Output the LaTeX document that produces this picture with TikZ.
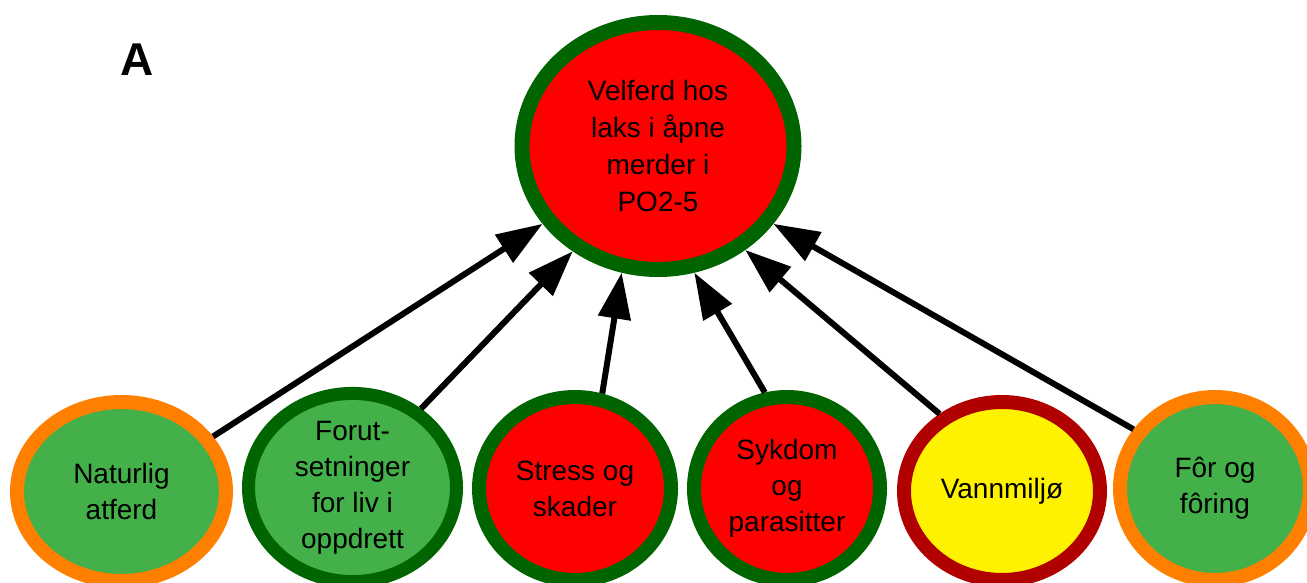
\documentclass[tikz,border=0pt]{standalone}
\usepackage{fontspec}
\setmainfont{Liberation Sans}
\usetikzlibrary{shapes.geometric,arrows.meta}

\definecolor{ringgreen}{RGB}{0,100,0}
\definecolor{leafgreen}{RGB}{67,176,73}
\definecolor{hotred}{RGB}{255,0,0}
\definecolor{ringorange}{RGB}{255,128,0}
\definecolor{ringred}{RGB}{176,0,0}
\definecolor{sunyellow}{RGB}{255,242,0}

\tikzset{
  factor/.style={ellipse, draw, inner sep=0pt, align=center,
    font=\fontsize{14pt}{18pt}\selectfont, text=black},
  goal/.style={factor, line width=7.5pt, draw=ringgreen, fill=hotred,
    font=\fontsize{14pt}{18.5pt}\selectfont},
  link/.style={line width=3pt, -{Triangle[length=23pt,width=16pt]}},
}

\begin{document}
\begin{tikzpicture}[x=0.5pt,y=-0.5pt]
  \useasboundingbox (0,0) rectangle (1307,583);
  \clip (0,0) rectangle (1307,583);

  % panel letter
  \node (panel) at (137.5,59.5) {\fontsize{23pt}{23pt}\selectfont\bfseries A};

  % overall welfare
  \node[goal, minimum width=136pt, minimum height=123.5pt] (top) at (658,146)
    {Velferd hos\\laks i åpne\\merder i\\PO2-5};

  % contributing factors
  \node[factor, line width=7pt, draw=ringorange, fill=leafgreen,
        minimum width=104.5pt, minimum height=89.5pt] (nat) at (121.5,491.5)
    {Naturlig\\atferd};
  \node[factor, line width=6.5pt, draw=ringgreen, fill=leafgreen,
        minimum width=104pt, minimum height=93pt] (forut) at (352.5,487.5)
    {Forut-\\setninger\\for liv i\\oppdrett};
  \node[factor, line width=7pt, draw=ringgreen, fill=hotred,
        minimum width=96pt, minimum height=91.5pt] (stress) at (575,488.5)
    {Stress og\\skader};
  \node[factor, line width=7pt, draw=ringgreen, fill=hotred,
        minimum width=93pt, minimum height=91.5pt] (syk) at (787,488.5)
    {Sykdom\\og\\parasitter};
  \node[factor, line width=7pt, draw=ringred, fill=sunyellow,
        minimum width=98pt, minimum height=89pt] (vann) at (1002,491)
    {Vannmiljø};
  \node[factor, line width=7pt, draw=ringorange, fill=leafgreen,
        minimum width=95pt, minimum height=91.5pt] (for) at (1215,488.5)
    {Fôr og\\fôring};

  % influence arrows, fanned around the lower rim of the goal
  \draw[link] (nat.31.7)    -- (top.214.5);
  \draw[link] (forut.49.7)  -- (top.231);
  \draw[link] (stress.74.2) -- (top.254.8);
  \draw[link] (syk.103)     -- (top.286.8);
  \draw[link] (vann.129.8)  -- (top.310);
  \draw[link] (for.144.5)   -- (top.326.4);
\end{tikzpicture}
\end{document}
